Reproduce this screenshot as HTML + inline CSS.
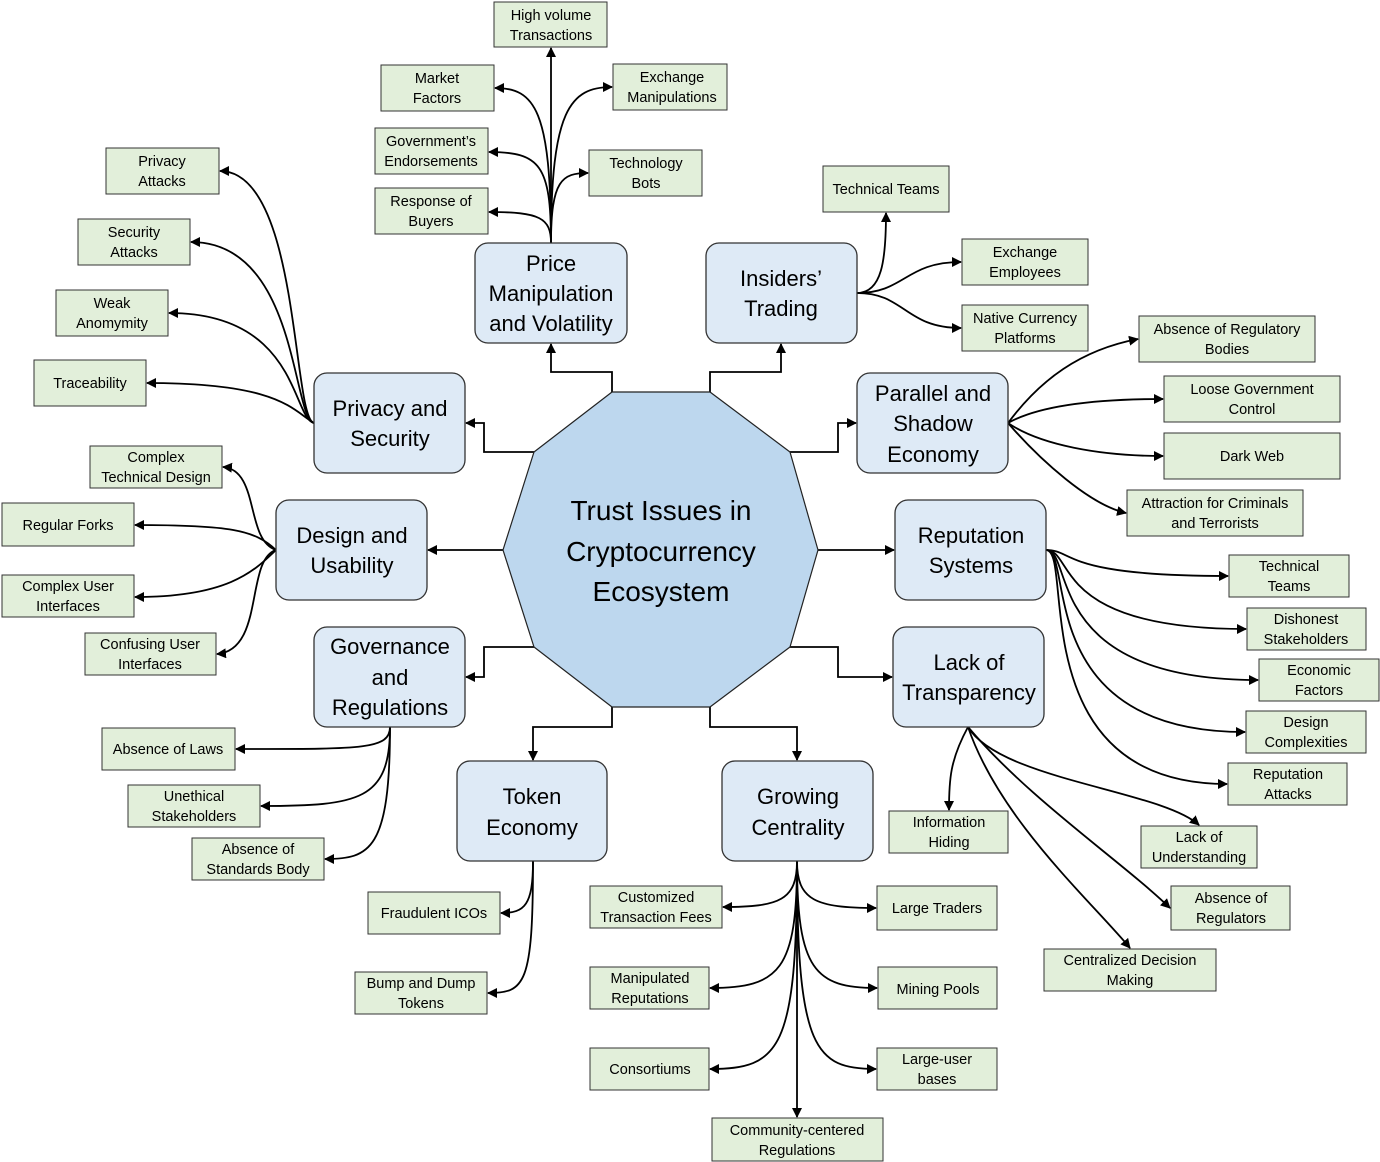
<!DOCTYPE html>
<html><head><meta charset="utf-8"><style>
body{margin:0;background:#fff}
svg{display:block}
text{font-family:"Liberation Sans",sans-serif;fill:#000;text-anchor:middle}
.b{fill:#deeaf6;stroke:#333;stroke-width:1.3}
.g{fill:#e2efda;stroke:#333;stroke-width:1}
.l{fill:none;stroke:#000;stroke-width:1.8}
.t{font-size:22px}
.s{font-size:14.5px}
</style></head><body>
<svg width="1380" height="1162" viewBox="0 0 1380 1162">
<defs><marker id="a" viewBox="0 0 10 10" refX="9" refY="5" markerWidth="10" markerHeight="10" orient="auto" markerUnits="userSpaceOnUse"><path d="M0,0L10,5L0,10z" fill="#000"/></marker></defs>
<g class="l" marker-end="url(#a)">
<path d="M612,392V372H551V344"/>
<path d="M710,392V372H781V344"/>
<path d="M534,452H484V423H466"/>
<path d="M790,452H838V423H856"/>
<path d="M503,550H428"/>
<path d="M818,550H894"/>
<path d="M534,647H484V677H466"/>
<path d="M790,647H838V677H892"/>
<path d="M612,707V727H533V760"/>
<path d="M710,707V727H797V760"/>
<path d="M551,243V48"/>
<path d="M551,243C551,110 535,88 495,88"/>
<path d="M551,243C551,110 570,87 612,87"/>
<path d="M551,243C551,165 540,152 489,152"/>
<path d="M551,243C551,180 562,173 588,173"/>
<path d="M551,243C551,218 540,212 489,212"/>
<path d="M857,293C882,293 886,260 886,213"/>
<path d="M857,293C905,293 905,262 961,262"/>
<path d="M857,293C905,293 905,328 961,328"/>
<path d="M314,423C292,418 300,171 220,171"/>
<path d="M314,423C292,418 298,242 191,242"/>
<path d="M314,423C292,418 298,313 169,313"/>
<path d="M314,423C292,410 280,383 147,383"/>
<path d="M1008,423C1040,380 1080,350 1138,339"/>
<path d="M1008,423C1040,405 1100,399 1163,399"/>
<path d="M1008,423C1040,445 1100,456 1163,456"/>
<path d="M1008,423C1040,460 1090,505 1126,513"/>
<path d="M276,550C245,540 260,470 223,467"/>
<path d="M276,550C255,530 230,525 135,525"/>
<path d="M276,550C255,570 230,597 135,597"/>
<path d="M276,550C245,560 265,650 217,654"/>
<path d="M1046,550C1075,550 1060,576 1228,576"/>
<path d="M1046,550C1075,550 1050,629 1246,629"/>
<path d="M1046,550C1075,550 1040,680 1258,680"/>
<path d="M1046,550C1075,550 1030,732 1245,732"/>
<path d="M1046,550C1075,550 1020,784 1227,784"/>
<path d="M390,727C390,750 360,749 236,749"/>
<path d="M390,727C390,800 360,806 261,806"/>
<path d="M390,727C390,850 370,859 325,859"/>
<path d="M968,727C950,760 949,780 949,810"/>
<path d="M968,727C1000,780 1160,790 1199,825"/>
<path d="M968,727C1030,800 1120,860 1170,908"/>
<path d="M968,727C1000,820 1090,900 1130,948"/>
<path d="M533,861C533,905 525,913 501,913"/>
<path d="M533,861C533,985 525,993 488,993"/>
<path d="M797,861C797,900 780,907 723,907"/>
<path d="M797,861C797,970 780,988 710,988"/>
<path d="M797,861C797,1050 780,1069 710,1069"/>
<path d="M797,861C797,900 815,908 876,908"/>
<path d="M797,861C797,970 815,988 877,988"/>
<path d="M797,861C797,1050 815,1069 876,1069"/>
<path d="M797,861V1117"/>
</g>
<polygon points="612,392 710,392 790,452 818,550 790,647 710,707 612,707 534,647 503,550 534,452" fill="#bdd7ee" stroke="#222" stroke-width="1.2"/>
<text font-size="28"><tspan x="661" y="520">Trust Issues in</tspan><tspan x="661" y="561">Cryptocurrency</tspan><tspan x="661" y="601">Ecosystem</tspan></text>
<g class="t">
<rect class="b" x="475" y="243" width="152" height="100" rx="13"/><text><tspan x="551" y="271">Price</tspan><tspan x="551" y="301">Manipulation</tspan><tspan x="551" y="331">and Volatility</tspan></text>
<rect class="b" x="706" y="243" width="151" height="100" rx="13"/><text><tspan x="781" y="286">Insiders’</tspan><tspan x="781" y="316">Trading</tspan></text>
<rect class="b" x="314" y="373" width="151" height="100" rx="13"/><text><tspan x="390" y="416">Privacy and</tspan><tspan x="390" y="446">Security</tspan></text>
<rect class="b" x="857" y="373" width="151" height="100" rx="13"/><text><tspan x="933" y="401">Parallel and</tspan><tspan x="933" y="431">Shadow</tspan><tspan x="933" y="462">Economy</tspan></text>
<rect class="b" x="276" y="500" width="151" height="100" rx="13"/><text><tspan x="352" y="543">Design and</tspan><tspan x="352" y="573">Usability</tspan></text>
<rect class="b" x="895" y="500" width="151" height="100" rx="13"/><text><tspan x="971" y="543">Reputation</tspan><tspan x="971" y="573">Systems</tspan></text>
<rect class="b" x="314" y="627" width="151" height="100" rx="13"/><text><tspan x="390" y="654">Governance</tspan><tspan x="390" y="685">and</tspan><tspan x="390" y="715">Regulations</tspan></text>
<rect class="b" x="893" y="627" width="151" height="100" rx="13"/><text><tspan x="969" y="670">Lack of</tspan><tspan x="969" y="700">Transparency</tspan></text>
<rect class="b" x="457" y="761" width="150" height="100" rx="13"/><text><tspan x="532" y="804">Token</tspan><tspan x="532" y="835">Economy</tspan></text>
<rect class="b" x="722" y="761" width="151" height="100" rx="13"/><text><tspan x="798" y="804">Growing</tspan><tspan x="798" y="835">Centrality</tspan></text>
</g>
<g class="s">
<rect class="g" x="494" y="2" width="113" height="45"/><text><tspan x="551" y="20">High volume</tspan><tspan x="551" y="40">Transactions</tspan></text>
<rect class="g" x="381" y="65" width="113" height="46"/><text><tspan x="437" y="83">Market</tspan><tspan x="437" y="103">Factors</tspan></text>
<rect class="g" x="613" y="64" width="114" height="46"/><text><tspan x="672" y="82">Exchange</tspan><tspan x="672" y="102">Manipulations</tspan></text>
<rect class="g" x="375" y="128" width="113" height="46"/><text><tspan x="431" y="146">Government’s</tspan><tspan x="431" y="166">Endorsements</tspan></text>
<rect class="g" x="589" y="150" width="113" height="46"/><text><tspan x="646" y="168">Technology</tspan><tspan x="646" y="188">Bots</tspan></text>
<rect class="g" x="375" y="188" width="113" height="46"/><text><tspan x="431" y="206">Response of</tspan><tspan x="431" y="226">Buyers</tspan></text>
<rect class="g" x="823" y="166" width="126" height="46"/><text x="886" y="194">Technical Teams</text>
<rect class="g" x="962" y="239" width="126" height="46"/><text><tspan x="1025" y="257">Exchange</tspan><tspan x="1025" y="277">Employees</tspan></text>
<rect class="g" x="962" y="305" width="126" height="46"/><text><tspan x="1025" y="323">Native Currency</tspan><tspan x="1025" y="343">Platforms</tspan></text>
<rect class="g" x="106" y="148" width="113" height="46"/><text><tspan x="162" y="166">Privacy</tspan><tspan x="162" y="186">Attacks</tspan></text>
<rect class="g" x="78" y="219" width="112" height="46"/><text><tspan x="134" y="237">Security</tspan><tspan x="134" y="257">Attacks</tspan></text>
<rect class="g" x="56" y="290" width="112" height="46"/><text><tspan x="112" y="308">Weak</tspan><tspan x="112" y="328">Anomymity</tspan></text>
<rect class="g" x="34" y="360" width="112" height="46"/><text x="90" y="388">Traceability</text>
<rect class="g" x="1139" y="316" width="176" height="46"/><text><tspan x="1227" y="334">Absence of Regulatory</tspan><tspan x="1227" y="354">Bodies</tspan></text>
<rect class="g" x="1164" y="376" width="176" height="46"/><text><tspan x="1252" y="394">Loose Government</tspan><tspan x="1252" y="414">Control</tspan></text>
<rect class="g" x="1164" y="433" width="176" height="46"/><text x="1252" y="461">Dark Web</text>
<rect class="g" x="1127" y="490" width="176" height="46"/><text><tspan x="1215" y="508">Attraction for Criminals</tspan><tspan x="1215" y="528">and Terrorists</tspan></text>
<rect class="g" x="90" y="446" width="132" height="42"/><text><tspan x="156" y="462">Complex</tspan><tspan x="156" y="482">Technical Design</tspan></text>
<rect class="g" x="2" y="503" width="132" height="43"/><text x="68" y="530">Regular Forks</text>
<rect class="g" x="2" y="575" width="132" height="42"/><text><tspan x="68" y="591">Complex User</tspan><tspan x="68" y="611">Interfaces</tspan></text>
<rect class="g" x="85" y="633" width="131" height="42"/><text><tspan x="150" y="649">Confusing User</tspan><tspan x="150" y="669">Interfaces</tspan></text>
<rect class="g" x="1229" y="555" width="120" height="42"/><text><tspan x="1289" y="571">Technical</tspan><tspan x="1289" y="591">Teams</tspan></text>
<rect class="g" x="1247" y="608" width="119" height="42"/><text><tspan x="1306" y="624">Dishonest</tspan><tspan x="1306" y="644">Stakeholders</tspan></text>
<rect class="g" x="1259" y="659" width="120" height="42"/><text><tspan x="1319" y="675">Economic</tspan><tspan x="1319" y="695">Factors</tspan></text>
<rect class="g" x="1246" y="711" width="120" height="42"/><text><tspan x="1306" y="727">Design</tspan><tspan x="1306" y="747">Complexities</tspan></text>
<rect class="g" x="1228" y="763" width="119" height="42"/><text><tspan x="1288" y="779">Reputation</tspan><tspan x="1288" y="799">Attacks</tspan></text>
<rect class="g" x="102" y="728" width="133" height="42"/><text x="168" y="754">Absence of Laws</text>
<rect class="g" x="128" y="785" width="132" height="42"/><text><tspan x="194" y="801">Unethical</tspan><tspan x="194" y="821">Stakeholders</tspan></text>
<rect class="g" x="192" y="838" width="132" height="42"/><text><tspan x="258" y="854">Absence of</tspan><tspan x="258" y="874">Standards Body</tspan></text>
<rect class="g" x="889" y="811" width="119" height="42"/><text><tspan x="949" y="827">Information</tspan><tspan x="949" y="847">Hiding</tspan></text>
<rect class="g" x="1141" y="826" width="116" height="42"/><text><tspan x="1199" y="842">Lack of</tspan><tspan x="1199" y="862">Understanding</tspan></text>
<rect class="g" x="1171" y="886" width="119" height="44"/><text><tspan x="1231" y="903">Absence of</tspan><tspan x="1231" y="923">Regulators</tspan></text>
<rect class="g" x="1044" y="949" width="172" height="42"/><text><tspan x="1130" y="965">Centralized Decision</tspan><tspan x="1130" y="985">Making</tspan></text>
<rect class="g" x="368" y="892" width="132" height="42"/><text x="434" y="918">Fraudulent ICOs</text>
<rect class="g" x="355" y="972" width="132" height="42"/><text><tspan x="421" y="988">Bump and Dump</tspan><tspan x="421" y="1008">Tokens</tspan></text>
<rect class="g" x="590" y="886" width="132" height="42"/><text><tspan x="656" y="902">Customized</tspan><tspan x="656" y="922">Transaction Fees</tspan></text>
<rect class="g" x="590" y="967" width="119" height="42"/><text><tspan x="650" y="983">Manipulated</tspan><tspan x="650" y="1003">Reputations</tspan></text>
<rect class="g" x="590" y="1048" width="119" height="42"/><text x="650" y="1074">Consortiums</text>
<rect class="g" x="877" y="886" width="120" height="44"/><text x="937" y="913">Large Traders</text>
<rect class="g" x="878" y="967" width="119" height="42"/><text x="938" y="994">Mining Pools</text>
<rect class="g" x="877" y="1048" width="120" height="42"/><text><tspan x="937" y="1064">Large-user</tspan><tspan x="937" y="1084">bases</tspan></text>
<rect class="g" x="712" y="1118" width="171" height="43"/><text><tspan x="797" y="1135">Community-centered</tspan><tspan x="797" y="1155">Regulations</tspan></text>
</g>
</svg>
</body></html>
